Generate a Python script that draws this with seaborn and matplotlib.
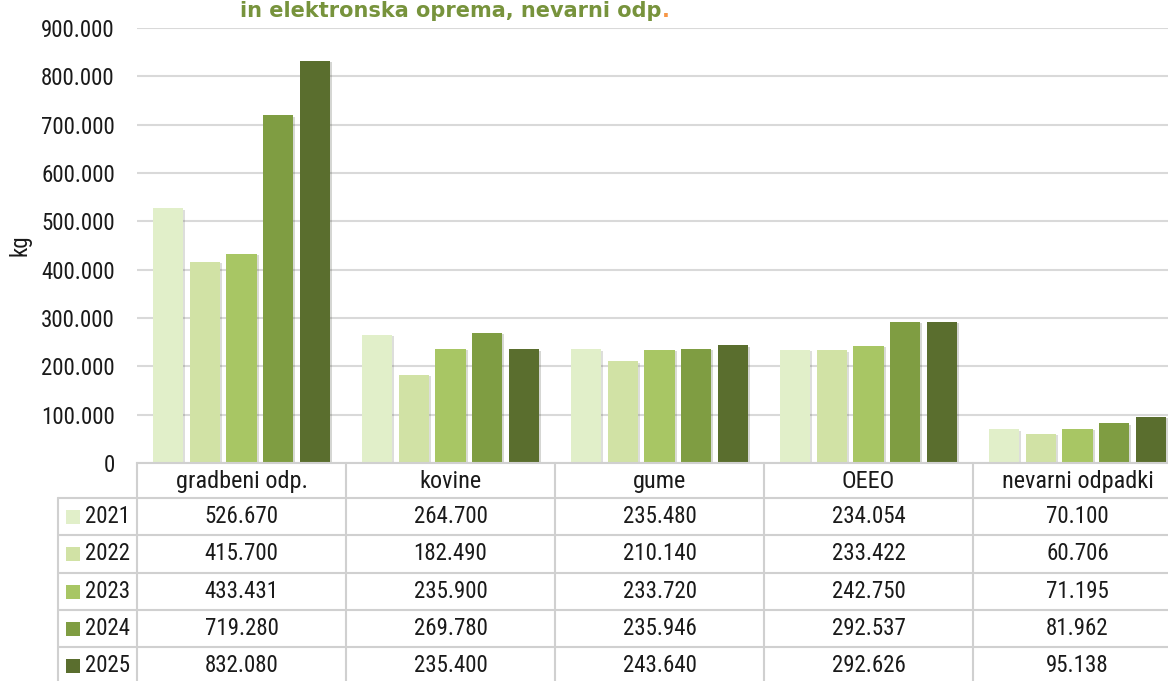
import matplotlib
matplotlib.use("Agg")
import matplotlib.pyplot as plt
import seaborn as sns
import pandas as pd
from matplotlib.ticker import FuncFormatter, MultipleLocator
from matplotlib import patheffects as pe
from matplotlib import font_manager as fm
from matplotlib.lines import Line2D

categories = ["gradbeni odp.", "kovine", "gume", "OEEO", "nevarni odpadki"]
years = ["2021", "2022", "2023", "2024", "2025"]
v2021 = [526670, 264700, 235480, 234054, 70100]
v2022 = [415700, 182490, 210140, 233422, 60706]
v2023 = [433431, 235900, 233720, 242750, 71195]
v2024 = [719280, 269780, 235946, 292537, 81962]
v2025 = [832080, 235400, 243640, 292626, 95138]
colors = ["#E1EFC9", "#D1E2A5", "#A8C664", "#7F9D42", "#5A6E2E"]
title_text = "in elektronska oprema, nevarni odp"
ylabel = "kg"

series = [v2021, v2022, v2023, v2024, v2025]
rows = []
for y, vals in zip(years, series):
    for c, v in zip(categories, vals):
        rows.append({"kat": c, "leto": y, "kg": v})
df = pd.DataFrame(rows)

sns.set_theme(style="white")
installed = {f.name for f in fm.fontManager.ttflist}
cands = ["Roboto Condensed", "Liberation Sans Narrow", "DejaVu Sans"]
FONT = [c for c in cands if c in installed] or ["DejaVu Sans"]
plt.rcParams["font.family"] = FONT
plt.rcParams["font.stretch"] = "condensed"
TFONT = ["DejaVu Sans"]

W, H = 1168, 681
fig = plt.figure(figsize=(W / 100, H / 100), dpi=100)
fig.patch.set_facecolor("white")

ax_left, ax_right, ax_top, ax_bot = 137, 1182, 28, 463
ax = fig.add_axes([ax_left / W, (H - ax_bot) / H, (ax_right - ax_left) / W, (ax_bot - ax_top) / H])

sns.barplot(data=df, x="kat", y="kg", hue="leto", palette=colors, ax=ax,
            width=0.88, gap=0.18, legend=False, saturation=1, edgecolor="none")
for p in ax.patches:
    p.set_path_effects([pe.SimplePatchShadow(offset=(1.5, -1), alpha=0.18), pe.Normal()])

ax.set_ylim(0, 900000)
ax.set_xlim(-0.5, len(categories) - 0.5)
ax.yaxis.set_major_locator(MultipleLocator(100000))
ax.yaxis.set_major_formatter(FuncFormatter(lambda v, p: "0" if v == 0 else f"{v:,.0f}".replace(",", ".")))
ax.grid(axis="y", color="#D9D9D9", linewidth=1.5)
ax.set_axisbelow(True)
for s in ["left", "right", "top"]:
    ax.spines[s].set_visible(False)
ax.spines["bottom"].set_color("#D0D0D0")
ax.spines["bottom"].set_linewidth(1.5)
FS = 16.5
ax.tick_params(axis="y", length=0, pad=16, labelsize=FS, labelcolor="#1a1a1a")
ax.set_xticks([])
ax.set_xlabel("")
ax.set_ylabel("")

fig.text(20 / W, (H - 245) / H, ylabel, rotation=90, ha="center", va="center", fontsize=FS, color="#1a1a1a")

# title (top line cut off in the reference)
t = fig.text(451 / W, (H - 17) / H, title_text, ha="center", va="baseline", family=TFONT,
             fontstretch="normal", fontsize=15, fontweight="bold", color="#77933C")
fig.canvas.draw()
bb = t.get_window_extent()
fig.text(bb.x1 / W, (H - 17) / H, ".", ha="left", va="baseline", family=TFONT, fontstretch="normal",
         fontsize=15, fontweight="bold", color="#F79646")

# data table
lc = "#D0D0D0"
col_edges = [ax_left + i * (ax_right - ax_left) / 5 for i in range(6)]
row_edges = [463, 498, 535, 573, 610, 647, 684]
leg_left = 58

def fx(px):
    return px / W

def fy(py):
    return (H - py) / H

for r in row_edges[1:-1]:
    fig.add_artist(Line2D([fx(leg_left), fx(ax_right)], [fy(r), fy(r)], color=lc, lw=1.5))
for c in col_edges:
    fig.add_artist(Line2D([fx(c), fx(c)], [fy(463), fy(690)], color=lc, lw=1.5))
fig.add_artist(Line2D([fx(leg_left), fx(leg_left)], [fy(498), fy(690)], color=lc, lw=1.5))

for i, c in enumerate(categories):
    cx = (col_edges[i] + col_edges[i + 1]) / 2
    fig.text(fx(cx), fy((row_edges[0] + row_edges[1]) / 2 + 1), c, ha="center", va="center",
             fontsize=17.5, color="#1a1a1a")

for j, (yr, vals, col) in enumerate(zip(years, series, colors)):
    cy = (row_edges[j + 1] + row_edges[j + 2]) / 2
    fig.add_artist(plt.Rectangle((fx(66), fy(cy + 7)), 14 / W, 14 / H, transform=fig.transFigure,
                                 facecolor=col, edgecolor="none"))
    fig.text(fx(85), fy(cy), yr, ha="left", va="center", fontsize=FS, color="#1a1a1a")
    for i, v in enumerate(vals):
        cx = (col_edges[i] + col_edges[i + 1]) / 2
        fig.text(fx(cx), fy(cy), f"{v:,.0f}".replace(",", "."), ha="center", va="center",
                 fontsize=FS, color="#1a1a1a")

fig.savefig("out.png", dpi=100, facecolor="white")
